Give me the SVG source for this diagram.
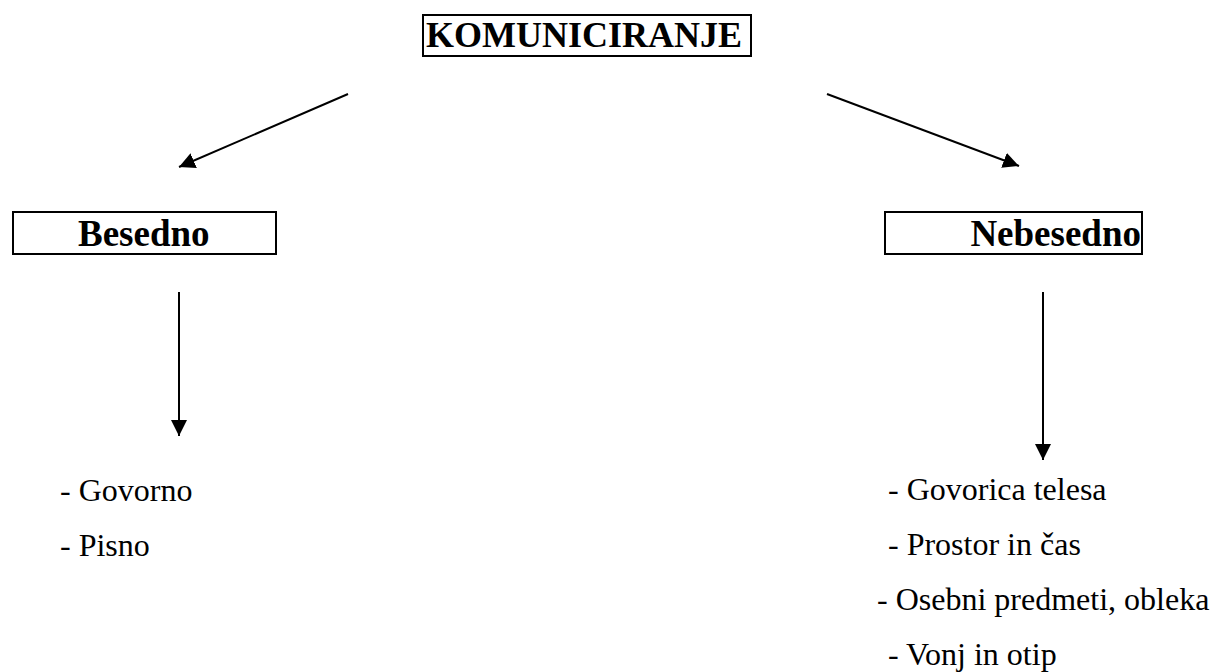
<svg xmlns="http://www.w3.org/2000/svg" width="1217" height="672" viewBox="0 0 1217 672">
<style>
.box{fill:#fff;stroke:#000;stroke-width:2}
.hd{font-family:'Liberation Serif','Tinos','DejaVu Serif',serif;font-weight:bold;fill:#000}
.it{font-family:'Liberation Serif','Tinos','DejaVu Serif',serif;font-size:32px;fill:#000}
.con{stroke:#000;stroke-width:2;fill:none;marker-end:url(#ah)}
</style>
<defs>
<marker id="ah" markerUnits="userSpaceOnUse" markerWidth="18" markerHeight="18" refX="16" refY="8" orient="auto">
<path d="M0,0 L16,8 L0,16 z" fill="#000"/>
</marker>
</defs>
<rect width="1217" height="672" fill="#fff"/>
<g id="connectors">
<line class="con" x1="348" y1="94" x2="179" y2="167"/>
<line class="con" x1="827" y1="94" x2="1019" y2="166"/>
<line class="con" x1="179" y1="292" x2="179" y2="436"/>
<line class="con" x1="1043" y1="292" x2="1043" y2="460"/>
</g>
<g id="komuniciranje">
<rect class="box" x="423" y="15" width="328" height="41"/>
<text class="hd" x="426" y="47" font-size="36">KOMUNICIRANJE</text>
</g>
<g id="besedno">
<rect class="box" x="13" y="212" width="263" height="42"/>
<text class="hd" x="78" y="246" font-size="37">Besedno</text>
</g>
<g id="nebesedno">
<rect class="box" x="885" y="212" width="257" height="42"/>
<text class="hd" x="1141" y="246" font-size="37" text-anchor="end">Nebesedno</text>
</g>
<g id="besedno-list">
<text class="it" x="60" y="501">- Govorno</text>
<text class="it" x="60" y="556">- Pisno</text>
</g>
<g id="nebesedno-list">
<text class="it" x="888" y="500">- Govorica telesa</text>
<text class="it" x="888" y="555">- Prostor in čas</text>
<text class="it" x="877" y="610">- Osebni predmeti, obleka</text>
<text class="it" x="888" y="665">- Vonj in otip</text>
</g>
</svg>
